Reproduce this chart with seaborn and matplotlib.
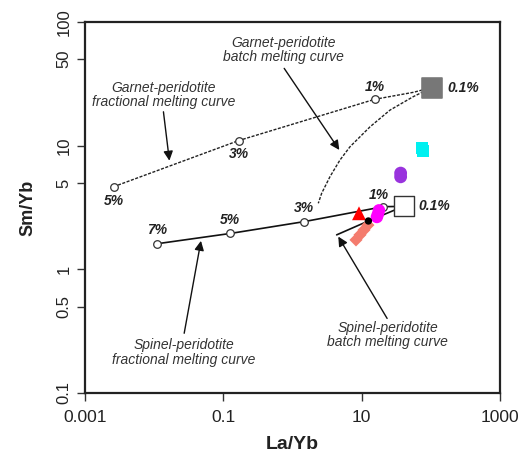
import matplotlib
matplotlib.use("Agg")
import matplotlib.pyplot as plt
import seaborn as sns
import numpy as np

sns.set_style("white")
plt.rcParams['font.family'] = ['Liberation Sans', 'DejaVu Sans']

# ---- data ----
# Garnet-peridotite fractional melting curve (5%, 3%, 1%, ..., 0.1%)
gf_x = [0.0026, 0.167, 15.4, 55.8, 103]
gf_y = [4.66, 11.0, 23.7, 27.0, 29.5]
gf_ticks_x = [0.0026, 0.167, 15.4]
gf_ticks_y = [4.66, 11.0, 23.7]
gf_labels = ["5%", "3%", "1%"]

# Garnet-peridotite batch melting curve
gb_x = [103, 55.7, 25.7, 13.2, 6.78, 4.86, 3.48, 2.64, 2.36]
gb_y = [29.5, 24.9, 19.4, 14.2, 9.8, 7.66, 5.61, 4.12, 3.42]

# Spinel-peridotite fractional melting curve (7%, 5%, 3%, 1%, 0.1%)
sf_x = [0.011, 0.126, 1.47, 20.5, 40.3]
sf_y = [1.61, 1.95, 2.43, 3.21, 3.23]
sf_ticks_x = [0.011, 0.126, 1.47, 20.5]
sf_ticks_y = [1.61, 1.95, 2.43, 3.21]
sf_labels = ["7%", "5%", "3%", "1%"]

# Spinel-peridotite batch melting curve
sb_x = [40.3, 12.5, 4.35]
sb_y = [3.23, 2.46, 1.90]

# Source compositions (0.1%)
garnet_src = (103, 29.5)
spinel_src = (40.3, 3.23)

# Samples
cyan_x, cyan_y = [75, 77], [9.5, 9.1]
purple_x, purple_y = [36.6, 36.6], [6.0, 5.6]
magenta_x, magenta_y = [17.8, 17.2, 16.6], [3.0, 2.8, 2.65]
red_x, red_y = [9.15], [2.84]
salmon_x = [8.28, 9.46, 10.8, 12.3]
salmon_y = [1.73, 1.90, 2.08, 2.28]
black_x, black_y = [12.5], [2.46]

x_ticks = [0.001, 0.1, 10, 1000]
x_ticklabels = ["0.001", "0.1", "10", "1000"]
y_ticks = [0.1, 0.5, 1, 5, 10, 50, 100]
y_ticklabels = ["0.1", "0.5", "1", "5", "10", "50", "100"]

# ---- figure ----
fig = plt.figure(figsize=(5.28, 4.57), dpi=100)
ax = fig.add_axes([85/528, 1-393/457, 415/528, 371/457])
ax.set_xscale('log')
ax.set_yscale('log')

lw = 1.0
sns.lineplot(x=gf_x, y=gf_y, sort=False, estimator=None, ax=ax, color='#222222',
             linewidth=lw, linestyle=(0, (2.2, 1.1)))
sns.lineplot(x=gb_x, y=gb_y, sort=False, estimator=None, ax=ax, color='#222222',
             linewidth=lw, linestyle=(0, (2.2, 1.1)))
sns.lineplot(x=sf_x, y=sf_y, sort=False, estimator=None, ax=ax, color='#111111',
             linewidth=1.2)
sns.lineplot(x=sb_x, y=sb_y, sort=False, estimator=None, ax=ax, color='#111111',
             linewidth=1.2)

# tick circles
sns.scatterplot(x=gf_ticks_x, y=gf_ticks_y, ax=ax, marker='o', s=30,
                facecolor='white', edgecolor='#333333', linewidth=0.9, zorder=4)
sns.scatterplot(x=sf_ticks_x, y=sf_ticks_y, ax=ax, marker='o', s=30,
                facecolor='white', edgecolor='#333333', linewidth=0.9, zorder=4)

# samples
sns.scatterplot(x=cyan_x, y=cyan_y, ax=ax, marker='s', s=75, color='#00f0f0',
                edgecolor='none', zorder=5)
sns.scatterplot(x=purple_x, y=purple_y, ax=ax, marker='o', s=85, color='#9933dd',
                edgecolor='none', zorder=5)
sns.scatterplot(x=magenta_x, y=magenta_y, ax=ax, marker='o', s=80, color='#ff00ff',
                edgecolor='none', zorder=5)
sns.scatterplot(x=salmon_x, y=salmon_y, ax=ax, marker='D', s=45, color='#f47c6e',
                edgecolor='none', zorder=5)
sns.scatterplot(x=red_x, y=red_y, ax=ax, marker='^', s=100, color='#ff0000',
                edgecolor='none', zorder=6)
sns.scatterplot(x=black_x, y=black_y, ax=ax, marker='o', s=28, color='black',
                edgecolor='none', zorder=7)

# sources
sns.scatterplot(x=[garnet_src[0]], y=[garnet_src[1]], ax=ax, marker='s', s=210,
                color='#777777', edgecolor='#777777', zorder=6)
sns.scatterplot(x=[spinel_src[0]], y=[spinel_src[1]], ax=ax, marker='s', s=210,
                facecolor='white', edgecolor='#333333', linewidth=1.0, zorder=6)

pct_kw = dict(fontsize=10, fontweight='bold', fontstyle='italic', color='#222222',
              textcoords='offset points', ha='center', va='center')
for x, y, t, dy in zip(gf_ticks_x, gf_ticks_y, gf_labels, [-10.5, -10, 9]):
    ax.annotate(t, (x, y), xytext=(0, dy), **pct_kw)
for x, y, t, dx, dy in zip(sf_ticks_x, sf_ticks_y, sf_labels, [0, 0, 0, -3], [10, 9.5, 9.5, 8.5]):
    ax.annotate(t, (x, y), xytext=(dx, dy), **pct_kw)
pct_kw2 = dict(pct_kw); pct_kw2['ha'] = 'left'
ax.annotate("0.1%", garnet_src, xytext=(11, 0), **pct_kw2)
ax.annotate("0.1%", spinel_src, xytext=(11, 0), **pct_kw2)

# curve annotations
txt_kw = dict(fontsize=10, fontstyle='italic', color='#333333', ha='center',
              va='center', transform=ax.transAxes, linespacing=1.05)
arr = dict(arrowstyle='-|>', color='#111111', lw=1.0, mutation_scale=14,
           shrinkA=0, shrinkB=0)
ax.text(0.478, 0.9245, "Garnet-peridotite\nbatch melting curve", **txt_kw)
ax.annotate('', xy=(4.75, 9.23), xycoords='data', xytext=(0.480, 0.875),
            textcoords='axes fraction', arrowprops=arr)
ax.text(0.189, 0.803, "Garnet-peridotite\nfractional melting curve", **txt_kw)
ax.annotate('', xy=(0.0166, 7.56), xycoords='data', xytext=(0.189, 0.758),
            textcoords='axes fraction', arrowprops=arr)
ax.text(0.2386, 0.1097, "Spinel-peridotite\nfractional melting curve", **txt_kw)
ax.annotate('', xy=(0.0475, 1.70), xycoords='data', xytext=(0.239, 0.161),
            textcoords='axes fraction', arrowprops=arr)
ax.text(0.729, 0.156, "Spinel-peridotite\nbatch melting curve", **txt_kw)
ax.annotate('', xy=(4.59, 1.84), xycoords='data', xytext=(0.728, 0.201),
            textcoords='axes fraction', arrowprops=arr)

ax.set_xlim(0.001, 1000)
ax.set_ylim(0.1, 100)
ax.xaxis.set_major_locator(matplotlib.ticker.FixedLocator(x_ticks))
ax.xaxis.set_minor_locator(matplotlib.ticker.NullLocator())
ax.yaxis.set_major_locator(matplotlib.ticker.FixedLocator(y_ticks))
ax.yaxis.set_minor_locator(matplotlib.ticker.NullLocator())
ax.set_xticklabels(x_ticklabels, fontsize=12.5, color='#222222')
ax.set_yticklabels(y_ticklabels, fontsize=12, color='#222222', rotation=90, va='center')
ax.tick_params(axis='x', which='major', pad=6)
ax.tick_params(axis='both', which='major', direction='out', length=6, width=1.0,
               color='#333333', bottom=True, left=True)
for sp in ax.spines.values():
    sp.set_color('#222222')
    sp.set_linewidth(1.6)

ax.set_xlabel("La/Yb", fontsize=14, fontweight='bold', color='#222222', labelpad=8)
ax.set_ylabel("Sm/Yb", fontsize=13, fontweight='bold', color='#222222', labelpad=15)

fig.savefig("out.png", dpi=100)
